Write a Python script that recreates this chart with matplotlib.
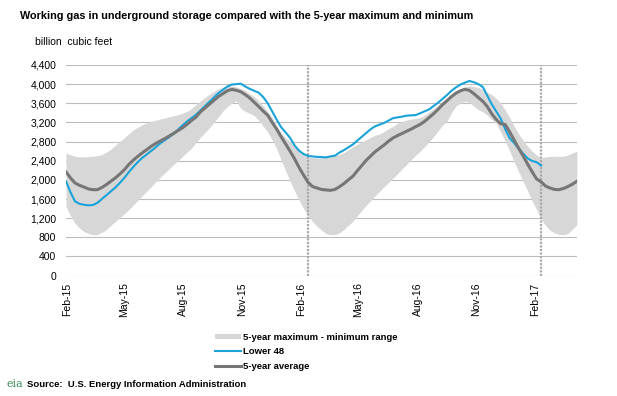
# imports
import pandas as pd
import matplotlib
matplotlib.use('Agg')
import matplotlib.pyplot as plt
import matplotlib.dates as mdates
from matplotlib.lines import Line2D
from matplotlib.patches import Patch
from matplotlib.ticker import FuncFormatter, MultipleLocator

# weekly report dates, Jan 30 2015 to Apr 7 2017
weeks = pd.date_range('2015-01-30', periods=115, freq='W-FRI')

# Lower 48 working gas (billion cubic feet), ends Feb 10 2017
lower48 = [1970, 1740, 1550, 1500, 1480, 1468, 1475, 1520, 1600, 1680,
           1760, 1840, 1935, 2040, 2160, 2270, 2370, 2458, 2530, 2605,
           2680, 2760, 2825, 2890, 2960, 3050, 3140, 3220, 3290, 3360,
           3450, 3540, 3630, 3720, 3810, 3880, 3950, 3990, 4000, 4009,
           3950, 3900, 3860, 3820, 3730, 3600, 3430, 3260, 3100, 2990,
           2877, 2720, 2610, 2540, 2500, 2490, 2480, 2475, 2470, 2490,
           2505, 2570, 2620, 2680, 2738, 2820, 2900, 2980, 3060, 3120,
           3155, 3190, 3240, 3290, 3305, 3320, 3340, 3348, 3352, 3390,
           3430, 3470, 3540, 3610, 3690, 3770, 3860, 3930, 3990, 4030,
           4065, 4040, 4000, 3940, 3760, 3580, 3430, 3280, 3060, 2870,
           2770, 2650, 2550, 2450, 2395, 2370, 2300]

# 5-year average
avg5 = [2165, 2040, 1935, 1885, 1850, 1810, 1795, 1795, 1840, 1900,
        1970, 2040, 2120, 2210, 2320, 2410, 2490, 2563, 2630, 2700,
        2760, 2810, 2860, 2915, 2970, 3030, 3087, 3160, 3240, 3310,
        3420, 3500, 3580, 3660, 3740, 3800, 3860, 3890, 3870, 3840,
        3780, 3710, 3620, 3530, 3436, 3350, 3200, 3060, 2900, 2750,
        2598, 2440, 2260, 2100, 1950, 1860, 1830, 1800, 1790, 1781,
        1800, 1855, 1920, 2000, 2074, 2190, 2300, 2410, 2500, 2590,
        2660, 2730, 2810, 2877, 2925, 2970, 3015, 3060, 3110, 3157,
        3220, 3300, 3380, 3470, 3570, 3650, 3740, 3810, 3860, 3890,
        3870, 3800, 3720, 3640, 3530, 3380, 3260, 3170, 3157, 3000,
        2830, 2660, 2500, 2330, 2170, 2020, 1960, 1870, 1830, 1800,
        1795, 1820, 1860, 1910, 1970]

# 5-year maximum
max5 = [2563, 2520, 2493, 2480, 2480, 2485, 2493, 2505, 2528, 2580,
        2640, 2720, 2800, 2880, 2960, 3040, 3100, 3150, 3190, 3220,
        3245, 3270, 3290, 3315, 3340, 3360, 3390, 3430, 3490, 3570,
        3650, 3720, 3790, 3850, 3900, 3940, 3960, 3960, 3940, 3910,
        3860, 3800, 3740, 3650, 3540, 3430, 3300, 3130, 2980, 2880,
        2800, 2700, 2600, 2520, 2480, 2470, 2460, 2458, 2470, 2490,
        2510, 2530, 2570, 2630, 2690, 2740, 2790, 2840, 2890, 2930,
        2960, 3010, 3070, 3120, 3180, 3220, 3250, 3270, 3285, 3300,
        3350, 3420, 3490, 3560, 3640, 3710, 3770, 3840, 3900, 3950,
        3960, 3950, 3930, 3880, 3830, 3780, 3700, 3600, 3460, 3300,
        3120, 2960, 2830, 2700, 2600, 2520, 2460, 2480, 2490, 2493,
        2490, 2493, 2520, 2560, 2600]

# 5-year minimum
min5 = [1446, 1250, 1096, 990, 920, 880, 852, 860, 905, 960,
        1050, 1130, 1210, 1290, 1380, 1470, 1570, 1670, 1760, 1860,
        1960, 2050, 2140, 2230, 2320, 2400, 2490, 2580, 2660, 2780,
        2890, 2990, 3087, 3200, 3320, 3436, 3530, 3600, 3646, 3490,
        3430, 3390, 3340, 3240, 3120, 3000, 2830, 2650, 2420, 2190,
        1970, 1770, 1580, 1400, 1260, 1130, 1030, 950, 880, 855,
        860, 890, 960, 1050, 1131, 1250, 1360, 1470, 1570, 1670,
        1760, 1860, 1950, 2039, 2130, 2230, 2319, 2420, 2510, 2598,
        2690, 2790, 2900, 3020, 3140, 3227, 3400, 3540, 3600, 3640,
        3620, 3540, 3470, 3420, 3350, 3260, 3180, 3000, 2800, 2600,
        2380, 2170, 1970, 1770, 1560, 1380, 1180, 1050, 950, 890,
        860, 855, 880, 970, 1062]

# latest report week of each year (dotted markers)
marker_dates = pd.to_datetime(['2016-02-12', '2017-02-10'])

labels = ['5-year maximum - minimum range', 'Lower 48', '5-year average']

band_col = '#d7d7d7'
blue = '#1aa3d9'
grey = '#767676'

plt.rcParams['font.family'] = ['Liberation Sans', 'DejaVu Sans']

fig = plt.figure(figsize=(6.17, 3.96), dpi=100)
ax = fig.add_axes([0.107, 0.304, 0.828, 0.532])

ax.fill_between(weeks, min5, max5, color=band_col, lw=0, zorder=1)
ax.plot(weeks[:len(lower48)], lower48, color=blue, lw=1.5, zorder=3)
ax.plot(weeks, avg5, color=grey, lw=2.2, zorder=4)
for d in marker_dates:
    ax.axvline(d, color='#aaaaaa', lw=1.6, ls=(0, (1, 0.6)), zorder=2)

ax.set_ylim(0, 4400)
ax.set_xlim(weeks[0], weeks[-1])
ax.yaxis.set_major_locator(MultipleLocator(400))
ax.yaxis.set_major_formatter(FuncFormatter(lambda v, p: f'{int(v):,}'))
ax.grid(axis='y', color='#bdbdbd', lw=0.8, zorder=0)
ax.set_axisbelow(True)
for s in ax.spines.values():
    s.set_visible(False)

ax.xaxis.set_major_locator(mdates.MonthLocator(bymonth=(2, 5, 8, 11)))
ax.xaxis.set_major_formatter(mdates.DateFormatter('%b-%y'))
ax.tick_params(axis='x', length=0, pad=5, labelsize=7.5, rotation=90)
ax.tick_params(axis='y', length=0, pad=7, labelsize=7.5)

fig.text(0.032, 0.96, 'Working gas in underground storage compared with the 5-year maximum and minimum',
         fontsize=7.8, fontweight='bold', va='center', ha='left')
fig.text(0.057, 0.893, 'billion  cubic feet', fontsize=7.5, va='center', ha='left')

handles = [Patch(facecolor=band_col, edgecolor='none'),
           Line2D([], [], color=blue, lw=1.5),
           Line2D([], [], color=grey, lw=2.2)]
fig.legend(handles, labels, loc='upper left', bbox_to_anchor=(0.34, 0.172),
           frameon=False, handlelength=2.8, handleheight=0.5,
           handletextpad=0.2, labelspacing=0.6, borderpad=0,
           prop={'weight': 'bold', 'size': 6.8})

fig.text(0.01, 0.03, 'eia', fontsize=8, color='#3a8f5a', family='DejaVu Serif', va='center')
fig.text(0.043, 0.03, 'Source:  U.S. Energy Information Administration', fontsize=6.8,
         fontweight='bold', va='center')

fig.savefig('out.png', dpi=100)
